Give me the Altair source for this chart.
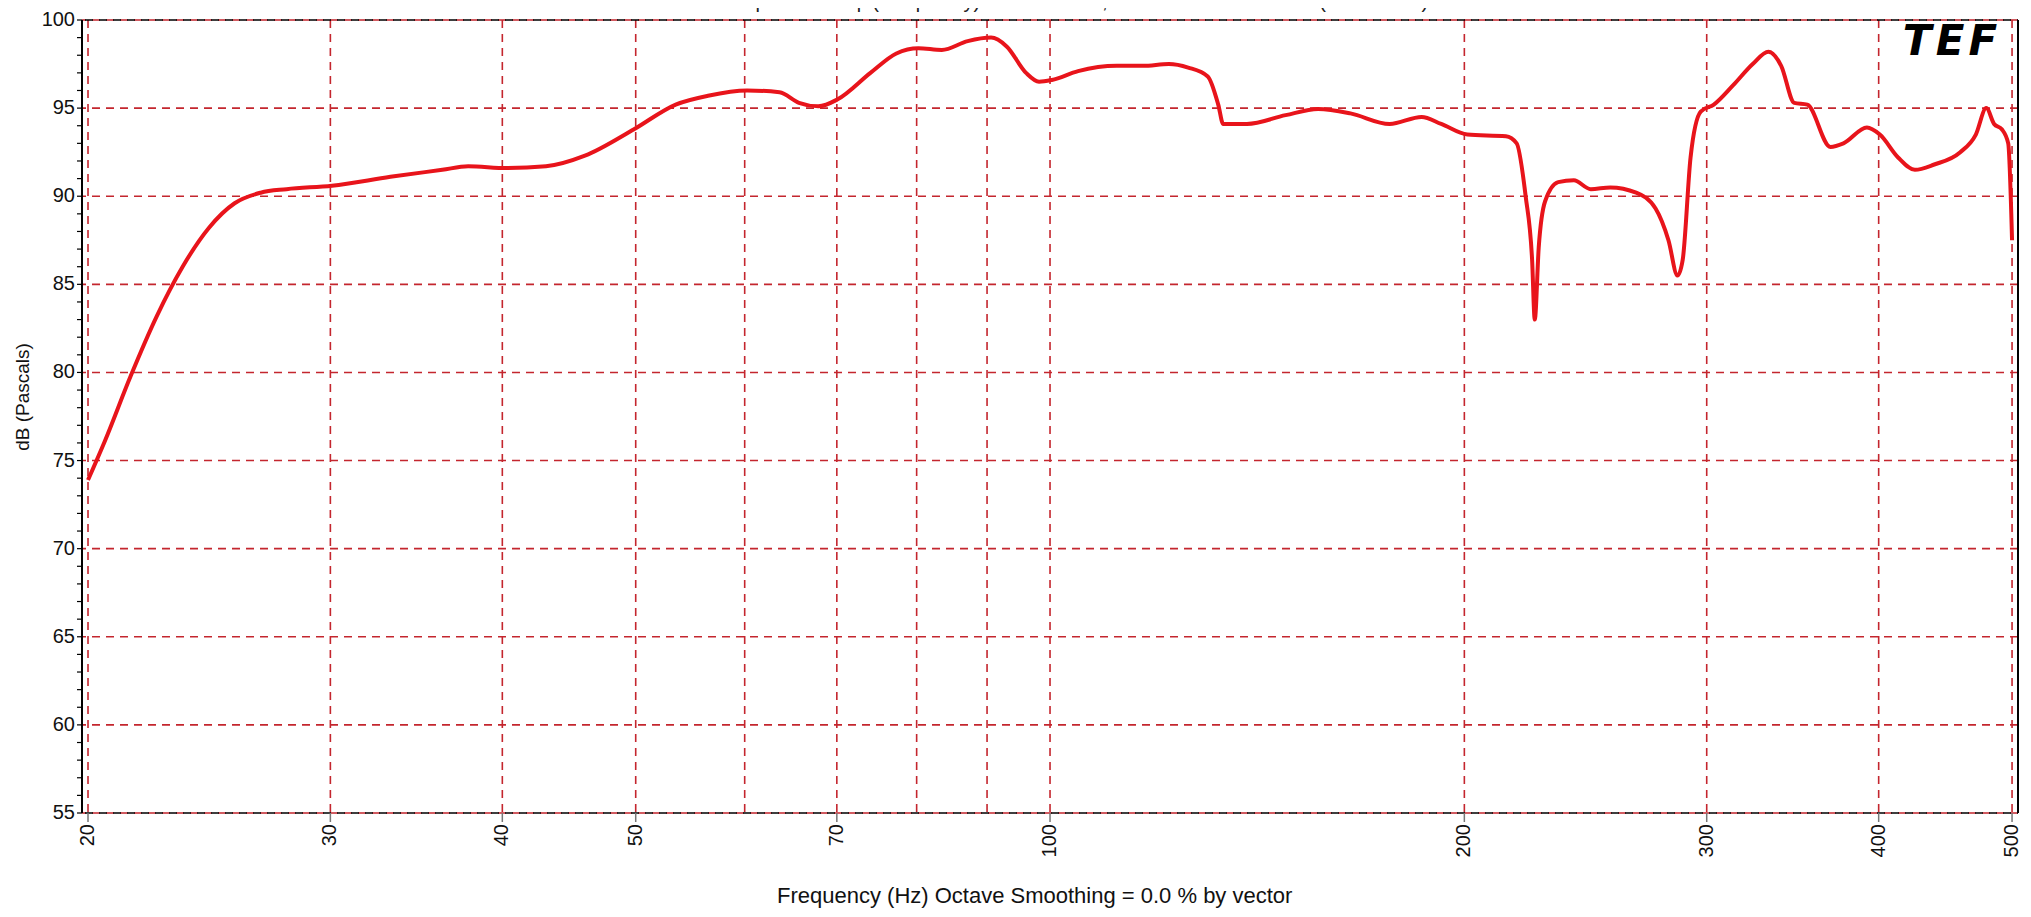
import altair as alt
import pandas as pd

# ---- data ----
freq_hz = [20.0, 20.57, 21.48, 22.44, 23.43, 24.48, 25.56, 26.70, 27.88, 30.08,
           33.17, 36.18, 37.78, 40.31, 43.03, 45.93, 49.86, 53.46, 56.43, 60.24,
           63.60, 65.70, 67.86, 70.10, 74.05, 77.33, 80.23, 83.43, 87.13, 90.61,
           93.0, 96.07, 98.18, 100.3, 104.8, 111.8, 116.8, 122.0, 126.0, 130.2,
           132.5, 133.6, 139.0, 148.3, 156.6, 165.3, 176.5, 186.2, 192.4, 201.0,
           214.4, 218.3, 221.6, 224.0, 225.0, 226.5, 228.9, 234.0, 240.2, 247.1,
           255.3, 266.6, 275.4, 281.4, 285.7, 288.2, 292.0, 297.0, 303.6, 313.6,
           324.0, 332.6, 339.8, 347.3, 355.0, 369.0, 377.1, 392.2, 400.8, 413.2,
           425.0, 439.0, 458.5, 470.6, 478.9, 485.2, 491.5, 496.8, 500.0]
level_db = [73.9, 76.1, 79.8, 83.2, 86.0, 88.2, 89.6, 90.2, 90.4, 90.6,
            91.1, 91.5, 91.7, 91.6, 91.7, 92.3, 93.8, 95.2, 95.7, 96.0,
            95.9, 95.3, 95.1, 95.5, 97.0, 98.1, 98.4, 98.3, 98.8, 99.0,
            98.5, 97.0, 96.5, 96.6, 97.1, 97.4, 97.4, 97.5, 97.3, 96.8,
            95.2, 94.1, 94.1, 94.6, 94.95, 94.7, 94.1, 94.5, 94.1, 93.5,
            93.4, 93.0, 90.0, 86.4, 83.0, 87.1, 89.7, 90.8, 90.9, 90.4,
            90.5, 90.2, 89.3, 87.5, 85.5, 86.4, 92.2, 94.8, 95.2, 96.3,
            97.5, 98.2, 97.4, 95.3, 95.2, 92.8, 93.0, 93.9, 93.5, 92.2,
            91.5, 91.8, 92.5, 93.5, 95.0, 94.1, 93.8, 93.0, 87.5]

x_grid_hz = [20, 30, 40, 50, 60, 70, 80, 90, 100, 200, 300, 400, 500]
x_label_hz = [20, 30, 40, 50, 70, 100, 200, 300, 400, 500]
x_label_text = ["20", "30", "40", "50", "70", "100", "200", "300", "400", "500"]
y_grid_db = [55, 60, 65, 70, 75, 80, 85, 90, 95, 100]
y_label_text = ["55", "60", "65", "70", "75", "80", "85", "90", "95", "100"]
y_minor_db = list(range(55, 101))
x_domain = [19.8, 505]
y_domain = [55, 100]

title_text = "SPL Sampled in Freq. (Frequency) Res = 2.5 Hz, Time Res = 400.00 ms (450.0 Feet)"
x_title = "Frequency (Hz) Octave Smoothing = 0.0 % by vector"
y_title = "dB (Pascals)"
logo_text = "T\u200aE\u200aF"

FONT = "Liberation Sans"
GRID = "#c4262e"
LINE = "#e8141b"
W, H = 1936, 793

xs = alt.Scale(type="log", domain=x_domain, nice=False)
ys = alt.Scale(domain=y_domain, nice=False, zero=False)

curve_df = pd.DataFrame({"f": freq_hz, "db": level_db})
vgrid_df = pd.DataFrame({"f": x_grid_hz})
hgrid_df = pd.DataFrame({"db": y_grid_db})
xlab_df = pd.DataFrame({"f": x_label_hz, "t": x_label_text})
ylab_df = pd.DataFrame({"db": y_grid_db, "t": y_label_text})
yminor_df = pd.DataFrame({"db": y_minor_db})
frame_df = pd.DataFrame({"db": [y_domain[0], y_domain[1]]})
right_df = pd.DataFrame({"f": [x_domain[1]]})

X = lambda: alt.X("f:Q", scale=xs, axis=None)
Y = lambda: alt.Y("db:Q", scale=ys, axis=None)

vgrid = alt.Chart(vgrid_df).mark_rule(color=GRID, strokeDash=[8, 6], strokeWidth=1.6).encode(x=X())
hgrid = alt.Chart(hgrid_df).mark_rule(color=GRID, strokeDash=[8, 6], strokeWidth=1.6).encode(y=Y())

frame_tb = alt.Chart(frame_df).mark_rule(color="#000", strokeDash=[8, 6], strokeDashOffset=7,
                                         strokeWidth=1.6).encode(y=Y())
frame_r = alt.Chart(right_df).mark_rule(color="#000", strokeWidth=2).encode(x=X())
frame_l = alt.Chart(right_df).mark_rule(color="#000", strokeWidth=2).encode(
    x=alt.value(0), y=alt.value(0), y2=alt.value(H))

yminor = alt.Chart(yminor_df).mark_rule(color="#000", strokeWidth=1.2).encode(
    y=Y(), x=alt.value(-5), x2=alt.value(0))
xticks = alt.Chart(xlab_df).mark_rule(color="#777", strokeWidth=1.5).encode(
    x=X(), y=alt.value(H), y2=alt.value(H + 9))

ylabels = alt.Chart(ylab_df).mark_text(font=FONT, fontSize=20, color="#111",
                                       align="right", baseline="middle").encode(
    y=Y(), x=alt.value(-7), text="t:N")
xlabels = alt.Chart(xlab_df).mark_text(font=FONT, fontSize=20, color="#111", angle=270,
                                       align="right", baseline="middle").encode(
    x=X(), y=alt.value(H + 11), text="t:N")

curve = alt.Chart(curve_df).mark_line(color=LINE, strokeWidth=4, interpolate="monotone").encode(
    x=X(), y=Y())

logo = alt.Chart(pd.DataFrame({"t": [logo_text]})).mark_text(
    font="DejaVu Sans", fontSize=42, fontWeight="bold", fontStyle="italic",
    color="#000", align="center", baseline="middle"
).encode(text="t:N", x=alt.value(1868), y=alt.value(22))

top_title = alt.Chart(pd.DataFrame({"t": [title_text]})).mark_text(
    font=FONT, fontSize=20, color="#222", align="center", baseline="bottom"
).encode(text="t:N", x=alt.value(968), y=alt.value(-8))

xt = alt.Chart(pd.DataFrame({"t": [x_title]})).mark_text(
    font=FONT, fontSize=22, color="#111", align="left", baseline="middle"
).encode(text="t:N", x=alt.value(695), y=alt.value(876))

yt = alt.Chart(pd.DataFrame({"t": [y_title]})).mark_text(
    font=FONT, fontSize=19, color="#111", align="center", baseline="middle", angle=270
).encode(text="t:N", x=alt.value(-59), y=alt.value(377))

chart = alt.layer(vgrid, hgrid, frame_tb, frame_r, frame_l, yminor, xticks,
                  ylabels, xlabels, curve, logo, top_title, xt, yt).properties(
    width=W, height=H,
    autosize=alt.AutoSizeParams(type="none"),
    padding={"left": 74, "top": 12, "right": 5, "bottom": 96},
    background="white",
).configure_view(stroke=None)

chart.save("out.html", embed_options={"renderer": "svg", "actions": False})
